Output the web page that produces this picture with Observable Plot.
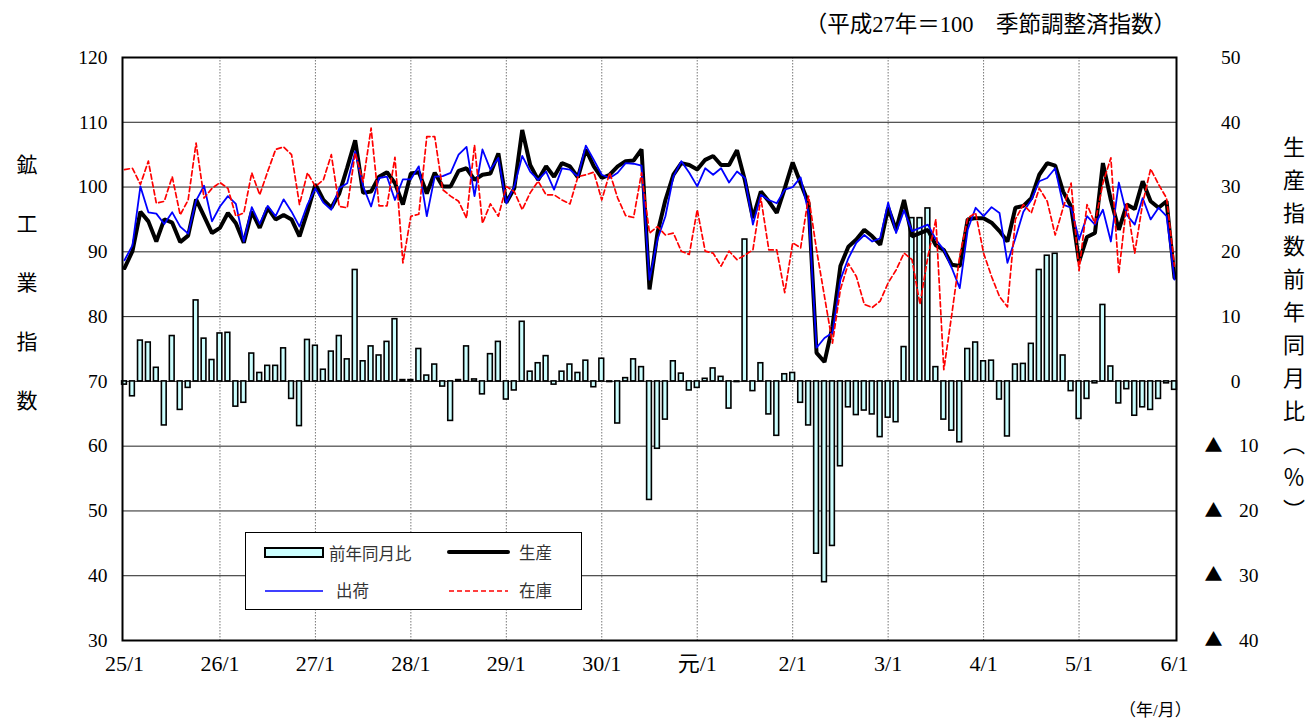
<!DOCTYPE html>
<html>
<head>
<meta charset="utf-8">
<script src="https://cdn.jsdelivr.net/npm/d3@7"></script>
<script src="https://cdn.jsdelivr.net/npm/@observablehq/plot@0.6"></script>
<style>
  body { margin: 0; background: #fff; }
  #wrap { position: relative; width: 1306px; height: 720px; font-family: "Liberation Serif", "Noto Sans CJK JP", serif; color: #000; }
  .abs { position: absolute; white-space: nowrap; }
  #title { right: 130px; top: 6px; font-size: 22.5px; }
  #unit { left: 1119px; top: 696px; font-size: 17px; }
  #ylabL { left: 9px; top: 154px; font-size: 21px; line-height: 32px; writing-mode: vertical-rl; letter-spacing: 38px; }
  #ylabR { left: 1275px; top: 136px; font-size: 22px; line-height: 32px; writing-mode: vertical-rl; letter-spacing: 11px; }
  #legend { left: 245px; top: 532px; width: 335px; height: 76px; border: 1px solid #000; background: #fff; }
</style>
</head>
<body>
<div id="wrap">
  <div id="title" class="abs">（平成27年＝100　季節調整済指数）</div>
  <div id="unit" class="abs">（年/月）</div>
  <div id="ylabL" class="abs">鉱工業指数</div>
  <div id="ylabR" class="abs">生産指数前年同月比（％）</div>
</div>
<script>
// Tick labels for January of each year (H25/1 ... R6/1)
const yearLabels = ["25/1","26/1","27/1","28/1","29/1","30/1","元/1","2/1","3/1","4/1","5/1","6/1"];
const leftTicks = [30,40,50,60,70,80,90,100,110,120];

// Production index (seasonally adjusted, 2015=100)
const production = [
 87.5,90.1,96.2,94.7,91.6,95.0,94.5,91.5,92.5,98.1,95.5,92.9,
 93.7,96.0,94.4,91.4,96.2,93.7,96.8,95.0,95.7,95.0,92.4,96.2,
 100.4,98.0,96.8,99.0,103.0,107.2,99.1,99.3,101.6,102.3,100.6,97.3,
 102.1,102.3,99.0,102.2,100.1,100.1,102.5,102.9,101.1,101.9,102.1,105.2,
 97.6,99.8,108.8,103.4,101.1,103.2,101.6,103.7,103.2,101.5,105.8,103.2,
 101.4,101.9,103.2,104.0,104.1,105.8,84.2,92.9,98.0,101.9,103.7,103.4,
 102.7,104.2,104.8,103.4,103.4,105.7,101.0,95.2,99.3,97.8,96.0,99.8,
 103.8,100.6,97.5,74.4,73.0,78.5,87.8,90.8,91.9,93.4,92.4,91.1,
 96.8,93.4,98.0,92.4,92.9,93.4,91.0,90.3,88.0,87.8,95.0,95.2,
 95.2,94.5,93.2,91.6,96.8,97.1,98.3,101.9,103.7,103.3,99.3,97.0,
 88.5,92.3,92.9,103.7,98.0,93.4,97.3,96.6,100.9,97.8,96.8,97.8,
 86.0
];
// Shipments index
const shipments = [
 88.7,91.0,100.1,96.1,95.9,94.3,96.1,93.9,92.8,97.9,100.2,94.7,
 97.0,98.6,97.4,91.6,96.9,94.3,97.1,95.5,98.1,96.2,93.9,97.3,
 99.8,97.6,96.5,99.8,100.6,105.5,100.1,97.0,101.4,101.6,98.0,101.2,
 101.2,103.2,95.5,101.6,101.7,102.2,105.0,106.2,98.6,105.8,102.7,104.5,
 97.5,100.1,104.8,102.4,101.1,102.4,99.6,102.9,102.7,101.6,106.4,104.2,
 101.9,101.4,102.2,103.7,103.6,103.3,85.7,91.9,95.5,101.6,104.0,102.2,
 100.1,102.9,101.9,102.9,100.7,102.4,101.4,94.2,98.8,98.0,97.5,99.6,
 100.0,101.5,96.0,75.2,76.7,77.5,85.7,89.0,91.4,92.6,91.6,92.1,
 97.6,92.9,96.4,93.2,93.7,94.2,91.9,90.3,87.5,84.4,93.4,96.8,
 95.5,96.9,96.0,88.3,92.1,96.2,98.0,100.9,101.4,102.9,97.3,96.8,
 91.9,95.5,94.2,96.5,91.6,100.7,95.7,94.2,98.3,95.0,96.8,95.5,
 85.7
];
// Inventory index
const inventory = [
 102.7,102.9,100.4,104.0,97.5,97.8,101.6,95.7,98.0,106.8,98.3,99.8,
 100.7,99.8,95.5,96.0,102.2,98.8,102.4,105.8,106.2,105.0,97.3,102.2,
 100.1,101.1,105.0,97.0,96.8,105.3,100.8,109.1,97.1,97.1,104.6,88.3,
 95.5,95.8,107.8,107.8,99.6,98.6,97.8,95.2,106.5,94.4,97.4,95.5,
 100.1,99.3,96.5,99.1,100.9,98.8,98.8,98.0,97.4,101.6,101.9,102.3,
 98.0,102.2,98.3,95.6,95.3,102.2,92.9,93.9,92.6,92.9,90.1,89.6,
 96.5,90.1,89.8,87.8,90.1,88.8,89.5,90.3,98.3,90.3,90.3,83.7,
 91.4,90.6,98.6,90.3,83.1,75.9,84.2,88.2,86.2,81.9,81.4,82.4,
 85.2,87.2,89.8,88.8,81.9,89.3,95.0,71.8,80.3,89.3,95.2,96.0,
 89.8,86.2,83.1,81.5,95.0,97.3,96.0,99.8,97.8,92.6,96.8,100.6,
 87.1,97.3,94.4,100.6,104.5,86.7,97.5,89.8,97.5,102.8,100.4,98.3,
 87.8
];
// Production, year-on-year change (%)
const yoy = [
 -0.5,-2.3,6.3,6.0,2.1,-6.8,7.0,-4.4,-1.0,12.5,6.6,3.3,
 7.4,7.5,-3.9,-3.3,4.3,1.3,2.4,2.4,5.1,-2.7,-6.9,6.4,
 5.5,1.8,4.6,7.0,3.4,17.2,3.1,5.4,4.0,6.1,9.6,0.2,
 0.2,5.0,0.9,2.6,-0.8,-6.1,0.2,5.4,0.3,-2.0,4.2,6.1,
 -2.8,-1.4,9.2,1.5,2.8,3.9,-0.5,1.5,2.6,1.3,3.2,-0.9,
 3.5,-0.1,-6.5,0.5,3.4,2.2,-18.3,-10.4,-5.9,3.1,1.2,-1.4,
 -1.0,0.4,2.0,0.7,-4.2,-0.1,21.9,-1.5,2.8,-5.1,-8.4,1.1,
 1.3,-3.3,-6.8,-26.6,-31.0,-25.4,-13.1,-4.0,-5.2,-4.5,-5.1,-8.6,
 -5.6,-6.3,5.3,25.2,25.2,26.7,2.2,-5.9,-7.6,-9.4,5.0,6.0,
 3.1,3.2,-2.8,-8.5,2.6,2.7,5.8,17.2,19.4,19.7,4.0,-1.5,
 -5.8,-2.7,-0.3,11.8,2.3,-3.4,-1.2,-5.3,-4.0,-4.4,-2.7,-0.3,
 -1.3
];

const rows = production.map((p, i) => ({i, p, s: shipments[i], inv: inventory[i], yoy: yoy[i]}));
const yearIdx = yearLabels.map((_, k) => k * 12);
// the right axis shares the left scale: right value 0 sits at left value 70
const ZERO = 70;
const negTicks = leftTicks.filter(t => t < ZERO);

const chart = Plot.plot({
  width: 1306,
  height: 720,
  marginLeft: 122,
  marginRight: 130,
  marginTop: 57,
  marginBottom: 80,
  x: {domain: [0, 132], range: [124, 1174]},
  y: {domain: [30, 120]},
  style: {fontFamily: '"Liberation Serif", "Noto Sans CJK JP", serif', fontSize: "20px", color: "#000", background: "transparent", overflow: "visible"},
  marks: [
    Plot.ruleY(leftTicks.slice(1, -1), {stroke: "#222", strokeWidth: 1}),
    Plot.ruleX(yearIdx.slice(1, -1), {stroke: "#777", strokeWidth: 1, strokeDasharray: "1.5,1.5"}),
    Plot.rect(rows, {
      x1: d => d.i - 0.5, x2: d => d.i + 0.5, insetLeft: 1.6, insetRight: 1.6,
      y1: ZERO, y2: d => ZERO + d.yoy,
      fill: "#ccffff", stroke: "#000", strokeWidth: 1.6
    }),
    Plot.line(rows, {x: "i", y: "p", stroke: "#000", strokeWidth: 4, strokeLinejoin: "miter"}),
    Plot.line(rows, {x: "i", y: "s", stroke: "#0000ff", strokeWidth: 1.8}),
    Plot.line(rows, {x: "i", y: "inv", stroke: "#ff0000", strokeWidth: 1.7, strokeDasharray: "5,3"}),
    Plot.frame({stroke: "#000", strokeWidth: 2}),
    Plot.axisY({ticks: leftTicks, tickSize: 0, tickPadding: 15, label: null, fontSize: 19.5}),
    Plot.axisY({anchor: "right", ticks: leftTicks.filter(t => t >= ZERO), tickSize: 0, tickPadding: 64, textAnchor: "end",
      tickFormat: d => String(d - ZERO), label: null, fontSize: 19.5}),
    Plot.axisY({anchor: "right", ticks: negTicks, tickSize: 0, tickPadding: 82, textAnchor: "end",
      tickFormat: d => String(ZERO - d), label: null, fontSize: 19.5}),
    // "▲" (negative sign) before the negative right-axis values
    Plot.text(negTicks, {y: d => d, text: () => "▲", frameAnchor: "right", dx: 37, textAnchor: "middle",
      fontFamily: '"Noto Sans CJK JP", sans-serif', fontSize: 18, fill: "#000"}),
    Plot.axisX({ticks: yearIdx, tickSize: 0, tickPadding: 15, label: null, fontSize: 22,
      tickFormat: d => yearLabels[d / 12]})
  ]
});
chart.style.position = "absolute";
chart.style.left = "0px";
chart.style.top = "0px";
const wrap = document.getElementById("wrap");
wrap.prepend(chart);

// Legend box inside the plot area
const lg = document.createElement("div");
lg.id = "legend";
lg.className = "abs";
const ls = d3.select(lg).append("svg").attr("width", 335).attr("height", 76)
  .style("font-family", '"Noto Sans CJK JP", sans-serif').style("font-size", "16.5px");
ls.append("rect").attr("x", 19).attr("y", 15).attr("width", 58).attr("height", 9)
  .attr("fill", "#ccffff").attr("stroke", "#000").attr("stroke-width", 2);
ls.append("text").attr("x", 83).attr("y", 21).attr("dy", "0.35em").attr("fill", "#333").text("前年同月比");
ls.append("line").attr("x1", 203).attr("x2", 262).attr("y1", 19).attr("y2", 19)
  .attr("stroke", "#000").attr("stroke-width", 4).attr("stroke-linecap", "round");
ls.append("text").attr("x", 273).attr("y", 20).attr("dy", "0.35em").attr("fill", "#333").text("生産");
ls.append("line").attr("x1", 19).attr("x2", 77).attr("y1", 58).attr("y2", 58)
  .attr("stroke", "#0000ff").attr("stroke-width", 1.6);
ls.append("text").attr("x", 90).attr("y", 58).attr("dy", "0.35em").attr("fill", "#333").text("出荷");
ls.append("line").attr("x1", 203).attr("x2", 262).attr("y1", 58).attr("y2", 58)
  .attr("stroke", "#ff0000").attr("stroke-width", 1.6).attr("stroke-dasharray", "5,3");
ls.append("text").attr("x", 273).attr("y", 58).attr("dy", "0.35em").attr("fill", "#333").text("在庫");
wrap.appendChild(lg);
</script>
</body>
</html>
